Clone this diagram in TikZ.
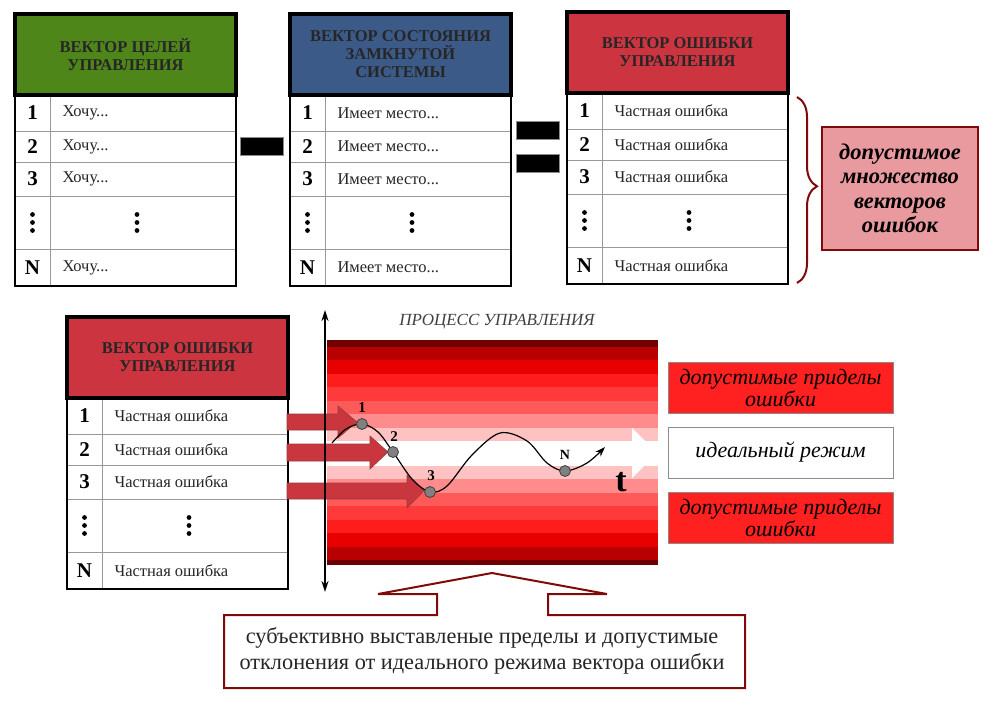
\documentclass[tikz,border=0pt]{standalone}
\usepackage{fontspec}
\setmainfont{Liberation Serif}
\usetikzlibrary{arrows.meta,decorations.pathreplacing}
\definecolor{hgreen}{HTML}{4E861A}
\definecolor{hblue}{HTML}{3C5A88}
\definecolor{hred}{HTML}{CC3540}
\definecolor{dred}{HTML}{7F0A0A}
\definecolor{cpink}{HTML}{E89A9E}
\definecolor{limred}{HTML}{FF2020}
\definecolor{arred}{HTML}{C9363E}
\definecolor{sa}{HTML}{700000}
\definecolor{sb}{HTML}{B80000}
\definecolor{sc}{HTML}{E80000}
\definecolor{sd}{HTML}{FF1C1C}
\definecolor{se}{HTML}{FF3A3A}
\definecolor{sf}{HTML}{FF5A5A}
\definecolor{sg}{HTML}{FF8C8C}
\definecolor{sh}{HTML}{FFC2C2}
\tikzset{
  hdr/.style={align=center, font=\fontsize{16.5}{18}\selectfont\bfseries, text=black!85},
  num/.style={font=\fontsize{21}{21}\selectfont\bfseries},
  cell/.style={anchor=west, font=\fontsize{16.5}{17}\selectfont, text=black!85},
  gridline/.style={draw=black!40, line width=1},
  bar/.style={fill=black, draw=black!45, line width=0.8, minimum width=43, minimum height=18, inner sep=0},
  lbox/.style={minimum width=225, minimum height=51, draw=black!45, line width=1, align=center,
    font=\fontsize{22}{22}\selectfont\itshape, inner sep=0},
  rarrow/.style={fill=arred, draw=dred!80, line width=0.6},
  ptc/.style={circle, fill=black!50, draw=black!75, line width=0.8, inner sep=0, minimum size=11},
  plab/.style={font=\fontsize{15}{15}\selectfont\bfseries, inner sep=0},
  vdot/.style={fill=black},
}
\newcommand\vtab[6]{%
\begin{scope}[shift={(#2,#3)}]
  \fill[#4] (0,0) rectangle (221,81);
  \draw[gridline] (0,117) -- (221,117) (0,148) -- (221,148) (0,182) -- (221,182) (0,235) -- (221,235) (35,81) -- (35,272);
  \draw[line width=4] (0,0) rectangle (221,81);
  \draw[line width=2.5] (0,0) rectangle (221,272);
  \node[hdr] (#1h) at (110.5,40.5) {#5};
  \node[num] (#1n1) at (17.5,99) {1};     \node[cell] (#1t1) at (44,99) {#6};
  \node[num] (#1n2) at (17.5,132.5) {2};  \node[cell] (#1t2) at (44,132.5) {#6};
  \node[num] (#1n3) at (17.5,165) {3};    \node[cell] (#1t3) at (44,165) {#6};
  \foreach \dy in {-8,0,8} {
    \fill[vdot] (17.5,208.5+\dy) circle (2.4);
    \fill[vdot] (122,208.5+\dy) circle (2.4);
  }
  \node[num] (#1nN) at (17.5,253.5) {N};  \node[cell] (#1tN) at (44,253.5) {#6};
\end{scope}}
\begin{document}
\begin{tikzpicture}[x=1pt,y=-1pt]
\useasboundingbox[fill=white] (0,0) rectangle (1000,706);

% ---------- top row ----------
\vtab{g}{15}{14}{hgreen}{ВЕКТОР ЦЕЛЕЙ\\УПРАВЛЕНИЯ}{Хочу...}
\vtab{s}{290}{14}{hblue}{ВЕКТОР СОСТОЯНИЯ\\ЗАМКНУТОЙ\\СИСТЕМЫ}{Имеет место...}
\vtab{e}{567}{12}{hred}{ВЕКТОР ОШИБКИ\\УПРАВЛЕНИЯ}{Частная ошибка}

\node[bar] (minus) at (262,146) {};
\node[bar] (eqa) at (538,130) {};
\node[bar] (eqb) at (538,163) {};

\draw[dred, line width=2, decorate, decoration={brace, amplitude=20, aspect=0.48}]
  (797,97) -- (797,283);
\node[draw=dred, line width=2.5, fill=cpink, minimum width=156, minimum height=123,
  align=center, font=\fontsize{22.5}{24.5}\selectfont\bfseries\itshape] (set) at (900,188.5)
  {допустимое\\множество\\векторов\\ошибок};

% ---------- bottom row ----------
\vtab{b}{67}{317}{hred}{ВЕКТОР ОШИБКИ\\УПРАВЛЕНИЯ}{Частная ошибка}

% band
\foreach \a/\b/\c in {340/347/sa,347/360/sb,360/374/sc,374/387/sd,387/401/se,401/414/sf,414/428/sg,428/441/sh,
  441/466/white,466/479/sh,479/493/sg,493/506/sf,506/520/se,520/533/sd,533/547/sc,547/560/sb,560/565/sa}
  \fill[\c] (327,\a) rectangle (658,\b);
\fill[white] (632,428) -- (657,453) -- (632,478) -- cycle;

\node[font=\fontsize{17}{17}\selectfont\itshape, text=black!75] (proc) at (497,322) {ПРОЦЕСС УПРАВЛЕНИЯ};

% red block arrows
\draw[rarrow] (287,414) -- (338,414) -- (338,406) -- (357,422) -- (338,438) -- (338,430) -- (287,430) -- cycle;
\draw[rarrow] (287,444) -- (370,444) -- (370,436) -- (388,452) -- (370,469) -- (370,461) -- (287,461) -- cycle;
\draw[rarrow] (287,483) -- (407,483) -- (407,475) -- (424,491) -- (407,508) -- (407,499) -- (287,499) -- cycle;

% axis
\coordinate (axT) at (325,310);
\coordinate (axB) at (325,592);
\draw[line width=2, {Stealth[length=11,width=7]}-{Stealth[length=11,width=7]}] (axT) -- (axB);

% curve
\coordinate (c1) at (362,424);
\coordinate (c2) at (393,452);
\coordinate (c3) at (430,492);
\coordinate (cN) at (565,471);
\draw[line width=1.2, -{Stealth[length=10,width=7]}] plot[smooth, tension=0.55] coordinates
  {(332,443) (346,429) (c1) (378,432) (c2) (412,479) (c3) (447,486) (472,455) (500,433) (527,441) (547,463) (cN) (587,463) (605,447)};
\node[ptc] (p1) at (c1) {};
\node[ptc] (p2) at (c2) {};
\node[ptc] (p3) at (c3) {};
\node[ptc] (pN) at (cN) {};
\node[plab] (l1) at (362,408) {1};
\node[plab] (l2) at (394,437) {2};
\node[plab] (l3) at (431,476) {3};
\node[plab, font=\fontsize{14}{14}\selectfont\bfseries] (lN) at (565,455) {N};
\node[font=\fontsize{34}{34}\selectfont\bfseries, inner sep=0] (tt) at (621,482) {t};

% right labels
\node[lbox, fill=limred] (rb1) at (780.5,387.5) {допустимые приделы\\ошибки};
\node[lbox, fill=white] (rb2) at (780.5,452.5) {идеальный режим};
\node[lbox, fill=limred] (rb3) at (780.5,517.5) {допустимые приделы\\ошибки};

% bottom callout
\draw[dred, line width=2, fill=white] (224,615) -- (437,615) -- (437,594) -- (378,594) -- (492,573)
  -- (607,594) -- (548,594) -- (548,615) -- (745,615) -- (745,688) -- (224,688) -- cycle;
\node[align=center, font=\fontsize{22.3}{26}\selectfont, text=black!85] (note) at (482,651)
  {субъективно выставленые пределы и допустимые\\отклонения от идеального режима вектора ошибки};
\end{tikzpicture}
\end{document}
